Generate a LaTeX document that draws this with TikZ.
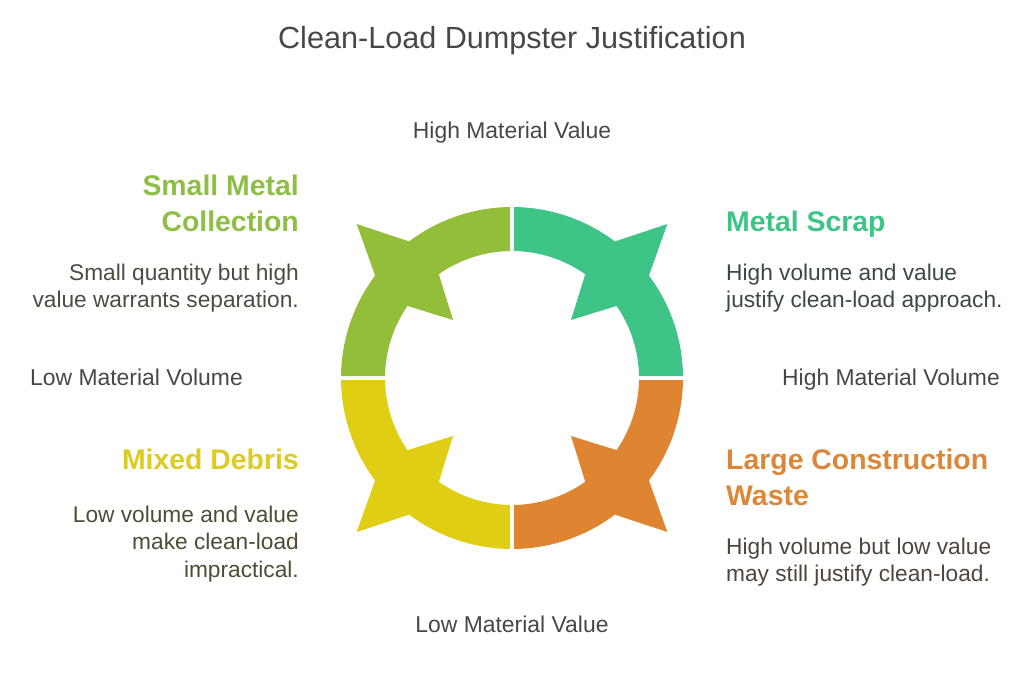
\documentclass[tikz,border=0pt]{standalone}
\usepackage{fontspec}
\setmainfont{Liberation Sans}
\definecolor{cgreen}{HTML}{3EC487}
\definecolor{clime}{HTML}{92BE39}
\definecolor{cyellow}{HTML}{E0CE14}
\definecolor{corange}{HTML}{DF8430}
\definecolor{hlime}{HTML}{8FBE48}
\definecolor{hyellow}{HTML}{DCCB22}
\definecolor{horange}{HTML}{DB873A}
\definecolor{txt}{HTML}{474747}
\definecolor{tgreen}{HTML}{3A4A42}
\definecolor{tlime}{HTML}{4A4D42}
\definecolor{tyellow}{HTML}{4F4C33}
\definecolor{torange}{HTML}{4F453C}
\tikzset{x=1pt,y=1pt,
 axislabel/.style={font=\fontsize{22.9}{27}\selectfont,text=txt,inner sep=0pt},
 headl/.style={font=\fontsize{28.4}{36}\selectfont\bfseries,align=right,anchor=north east,inner sep=0pt},
 headr/.style={font=\fontsize{28.4}{36}\selectfont\bfseries,align=left,anchor=north west,inner sep=0pt},
 bodyl/.style={font=\fontsize{22.7}{27.3}\selectfont,align=right,anchor=north east,inner sep=0pt},
 bodyr/.style={font=\fontsize{22.7}{27.3}\selectfont,align=left,anchor=north west,inner sep=0pt},
 petal/.style={shift={(512,-378)}}}
\begin{document}
\begin{tikzpicture}
\useasboundingbox (0,0) rectangle (1024,-683);
\fill[cgreen,petal] (89.33:171) arc[start angle=89.33,end angle=53,radius=171] -- (155.3,154) -- (36.8:171) arc[start angle=36.8,end angle=0.67,radius=171] -- (0.9:127) arc[start angle=0.9,end angle=34.6,radius=127] -- (59,58) -- (54.8:127) arc[start angle=54.8,end angle=89.1,radius=127] -- cycle;
\fill[clime,petal] (90.67:171) arc[start angle=90.67,end angle=127,radius=171] -- (-155.3,154) -- (143.2:171) arc[start angle=143.2,end angle=179.33,radius=171] -- (179.1:127) arc[start angle=179.1,end angle=145.4,radius=127] -- (-59,58) -- (125.2:127) arc[start angle=125.2,end angle=90.9,radius=127] -- cycle;
\fill[cyellow,petal] (269.33:171) arc[start angle=269.33,end angle=233,radius=171] -- (-155.3,-154) -- (216.8:171) arc[start angle=216.8,end angle=180.67,radius=171] -- (180.9:127) arc[start angle=180.9,end angle=214.6,radius=127] -- (-59,-58) -- (234.8:127) arc[start angle=234.8,end angle=269.1,radius=127] -- cycle;
\fill[corange,petal] (270.67:171) arc[start angle=270.67,end angle=307,radius=171] -- (155.3,-154) -- (323.2:171) arc[start angle=323.2,end angle=359.33,radius=171] -- (359.1:127) arc[start angle=359.1,end angle=325.4,radius=127] -- (59,-58) -- (305.2:127) arc[start angle=305.2,end angle=270.9,radius=127] -- cycle;
\node[font=\fontsize{30.6}{36}\selectfont,text=txt,inner sep=0pt,anchor=base] (title) at (512,-48) {Clean-Load Dumpster Justification};
\node[axislabel,anchor=base] (top) at (512,-138) {High Material Value};
\node[axislabel,anchor=base] (bottom) at (512,-632) {Low Material Value};
\node[axislabel,anchor=base west] (left) at (30,-385) {Low Material Volume};
\node[axislabel,anchor=base east] (right) at (1000,-385) {High Material Volume};
\node[headl,text=hlime] (h1) at (299,-175) {Small Metal\\Collection};
\node[bodyl,text=tlime] (b1) at (299,-264) {Small quantity but high\\value warrants separation.};
\node[headr,text=cgreen] (h2) at (726,-211) {Metal Scrap};
\node[bodyr,text=tgreen] (b2) at (726,-264) {High volume and value\\justify clean-load approach.};
\node[headl,text=hyellow] (h3) at (299,-449) {Mixed Debris};
\node[bodyl,text=tyellow] (b3) at (299,-506) {Low volume and value\\make clean-load\\impractical.};
\node[headr,text=horange] (h4) at (726,-449) {Large Construction\\Waste};
\node[bodyr,text=torange] (b4) at (726,-538) {High volume but low value\\may still justify clean-load.};
\end{tikzpicture}
\end{document}
